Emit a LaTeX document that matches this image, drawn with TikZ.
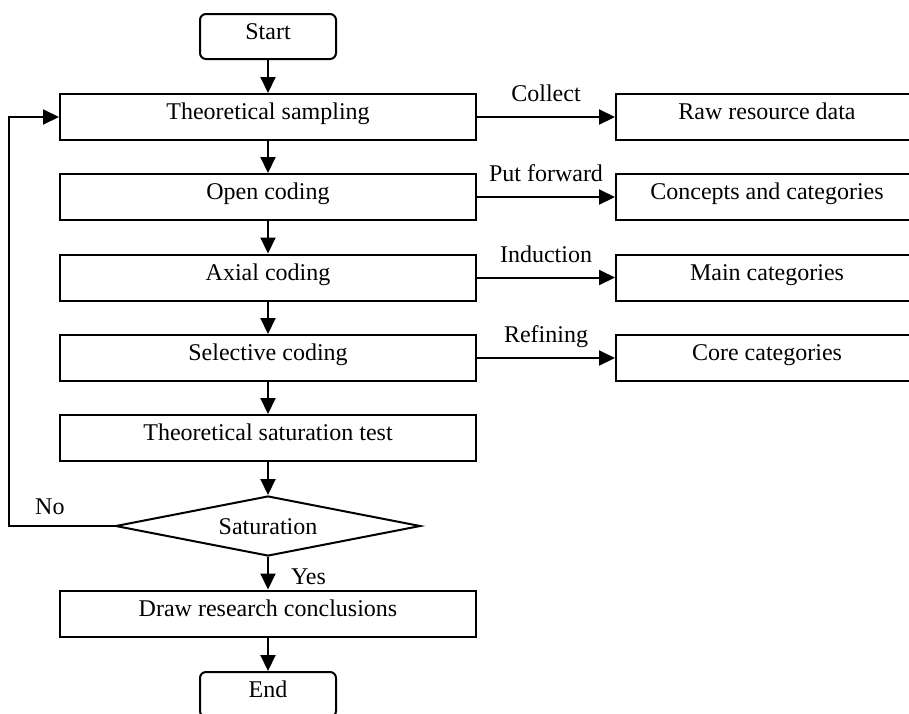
\documentclass[tikz,border=0pt]{standalone}
\usepackage{fontspec}
\setmainfont{Liberation Serif}
\usetikzlibrary{shapes.geometric}
\usetikzlibrary{arrows.meta}

\begin{document}
\begin{tikzpicture}[x=1pt,y=1pt,line width=2pt,
  font=\fontsize{24}{28}\selectfont,
  box/.style={draw,rectangle,minimum width=416pt,minimum height=46pt,text height=17pt,text depth=12pt},
  side/.style={box,minimum width=302pt},
  term/.style={box,minimum width=136pt,minimum height=45pt,rounded corners=6pt},
  test/.style={draw,diamond,aspect=5,inner sep=0pt,minimum width=305pt,minimum height=60pt,text height=16pt,text depth=0pt},
  arr/.style={-{Triangle[length=16pt,width=15pt]}},
  lbl/.style={inner sep=0pt}]
\useasboundingbox (0,0) rectangle (909,-713);
\clip (0,0) rectangle (909,-713);
\node[term] (start) at (268,-36.5) {Start};
\node[box] (ts) at (268,-117) {Theoretical sampling};
\node[box] (oc) at (268,-197) {Open coding};
\node[box] (ac) at (268,-277.5) {Axial coding};
\node[box] (sc) at (268,-358) {Selective coding};
\node[box] (tst) at (268,-438) {Theoretical saturation test};
\node[test] (sat) at (268,-526) {Saturation};
\node[box] (drc) at (268,-613.5) {Draw research conclusions};
\node[term] (end) at (268,-694.5) {End};
\node[side] (raw) at (767,-117) {Raw resource data};
\node[side] (cc) at (767,-197) {Concepts and categories};
\node[side] (mc) at (767,-277.5) {Main categories};
\node[side] (core) at (767,-358) {Core categories};
\foreach \a/\b in {start/ts,ts/oc,oc/ac,ac/sc,sc/tst,tst/sat,drc/end}
  \draw[arr] (\a.south) -- (\b.north);
\foreach \a/\b/\t in {ts/raw/Collect,oc/cc/Put forward,ac/mc/Induction,sc/core/Refining}
  \draw[arr] (\a.east) -- node[lbl,anchor=base,yshift=15.5pt] {\t} (\b.west);
\draw[arr] (sat.south) -- node[lbl,anchor=base west,xshift=22pt,yshift=-11.5pt] {Yes} (drc.north);
\draw[arr] (sat.west) -- node[lbl,pos=.61,anchor=base,yshift=12pt] {No} ++(-106,0) |- (ts.west);
\end{tikzpicture}
\end{document}
